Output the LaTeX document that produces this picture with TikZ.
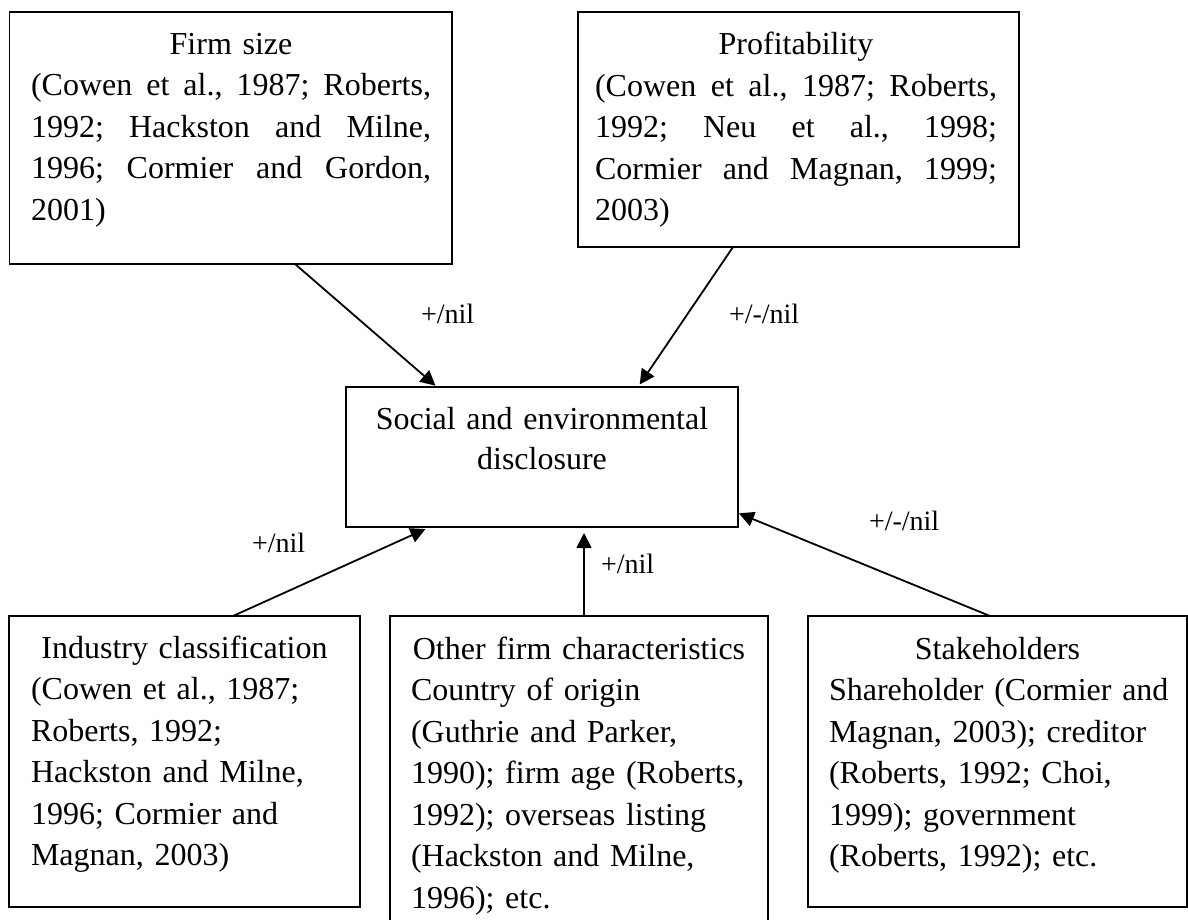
\documentclass[tikz,border=0pt]{standalone}
\usepackage{fontspec}
\setmainfont{Liberation Serif}
\usetikzlibrary{arrows.meta}
% one full-width line; words are spread with \hfill
\newcommand\spreadline[1]{\leavevmode\hbox to\linewidth{#1}\par}
\newcommand\midline[1]{\leavevmode\makebox[\linewidth][c]{#1}\par}
\begin{document}
\begin{tikzpicture}[x=1pt,y=-1pt,
  box/.style={draw, line width=1.8pt, inner sep=0pt, outer sep=0pt, anchor=north west},
  body/.style={anchor=base west, inner sep=0pt, outer sep=0pt,
    font=\fontsize{32pt}{41.5pt}\selectfont,
    execute at begin node={\parindent=0pt}},
  cbody/.style={anchor=base, inner sep=0pt, outer sep=0pt, align=center,
    font=\fontsize{32pt}{40pt}\selectfont},
  lbl/.style={anchor=base west, inner sep=0pt, outer sep=0pt,
    font=\fontsize{28pt}{34pt}\selectfont},
  arr/.style={line width=1.8pt, -{Triangle[length=15pt,width=15pt]}}]

\useasboundingbox (0,0) rectangle (1188,920);
\fill[white] (0,0) rectangle (1188,920);

% frames
\node[box, minimum width=442.5pt, minimum height=252pt] (firm)   at (9.5,12) {};
\node[box, minimum width=441pt,   minimum height=235pt] (profit) at (578,12) {};
\node[box, minimum width=392pt,   minimum height=140pt] (social) at (346,387) {};
\node[box, minimum width=351pt,   minimum height=291pt] (industry) at (9,616) {};
\node[box, minimum width=379pt,   minimum height=291pt] (stake)  at (808,616) {};
\begin{scope}
  \clip (0,0) rectangle (1188,920);
  \node[box, minimum width=378pt, minimum height=340pt] (other) at (390,616) {};
\end{scope}

% texts
\node[body, text width=400pt] (firmtxt) at (31,54.3)
  {\midline{Firm size}%
   \spreadline{(Cowen\hfill et\hfill al.,\hfill 1987;\hfill Roberts,}%
   \spreadline{1992;\hfill Hackston\hfill and\hfill Milne,}%
   \spreadline{1996;\hfill Cormier\hfill and\hfill Gordon,}%
   2001)};
\node[body, text width=402pt] (profittxt) at (595,55)
  {\midline{Profitability}%
   \spreadline{(Cowen\hfill et\hfill al.,\hfill 1987;\hfill Roberts,}%
   \spreadline{1992;\hfill Neu\hfill et\hfill al.,\hfill 1998;}%
   \spreadline{Cormier\hfill and\hfill Magnan,\hfill 1999;}%
   2003)};
\node[cbody, text width=392pt] (socialtxt) at (542,429)
  {Social and environmental\\disclosure};
\node[body, text width=320pt, align=left] (industrytxt) at (31,658)
  {\makebox[307pt]{Industry classification}\\
   (Cowen et al., 1987;\\
   Roberts, 1992;\\
   Hackston and Milne,\\
   1996; Cormier and\\
   Magnan, 2003)};
\node[body, text width=350pt, align=left] (othertxt) at (411,659)
  {\makebox[336pt]{Other firm characteristics}\\
   Country of origin\\
   (Guthrie and Parker,\\
   1990); firm age (Roberts,\\
   1992); overseas listing\\
   (Hackston and Milne,\\
   1996); etc.};
\node[body, text width=350pt, align=left] (staketxt) at (829,659)
  {\makebox[337pt]{Stakeholders}\\
   Shareholder (Cormier and\\
   Magnan, 2003); creditor\\
   (Roberts, 1992; Choi,\\
   1999); government\\
   (Roberts, 1992); etc.};

% influences on disclosure
\draw[arr, shorten >=2pt] ([xshift=64.25pt]firm.south) -- ([xshift=-105pt]social.north);
\draw[arr, shorten >=3pt] ([xshift=-65.5pt]profit.south) -- ([xshift=96pt]social.north);
\draw[arr, shorten >=5pt] ([xshift=48.5pt]industry.north) -- ([xshift=-112pt]social.south);
\draw[arr, shorten >=6pt] ([xshift=5pt]other.north) -- ([xshift=42pt]social.south);
\draw[arr, shorten >=1pt] ([xshift=-7.5pt]stake.north) -- ([yshift=-56pt]social.east);

% signs of the effects
\node[lbl] (lfirm)     at (421,323) {+/nil};
\node[lbl] (lprofit)   at (729,323) {+/-/nil};
\node[lbl] (lindustry) at (252,552) {+/nil};
\node[lbl] (lother)    at (601,573) {+/nil};
\node[lbl] (lstake)    at (869,530) {+/-/nil};
\end{tikzpicture}
\end{document}
